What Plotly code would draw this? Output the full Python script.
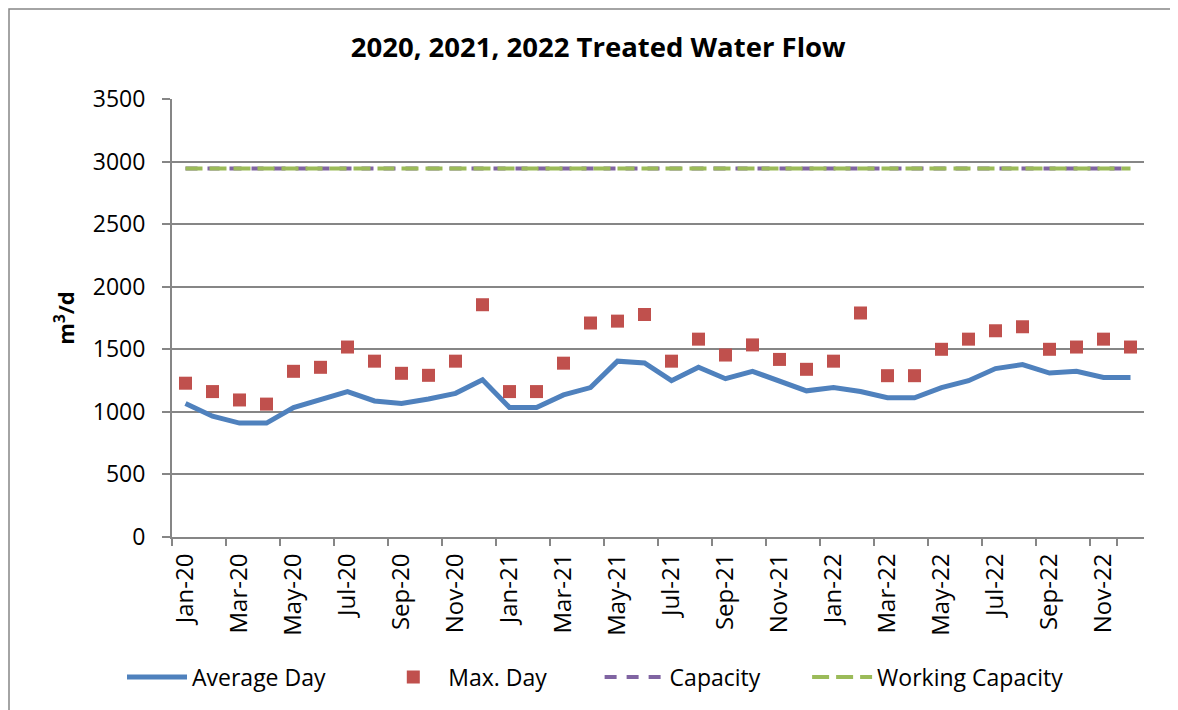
import plotly.graph_objects as go

months = ["Jan-20", "Feb-20", "Mar-20", "Apr-20", "May-20", "Jun-20", "Jul-20", "Aug-20", "Sep-20", "Oct-20", "Nov-20", "Dec-20",
          "Jan-21", "Feb-21", "Mar-21", "Apr-21", "May-21", "Jun-21", "Jul-21", "Aug-21", "Sep-21", "Oct-21", "Nov-21", "Dec-21",
          "Jan-22", "Feb-22", "Mar-22", "Apr-22", "May-22", "Jun-22", "Jul-22", "Aug-22", "Sep-22", "Oct-22", "Nov-22", "Dec-22"]

average_day = [1067, 965, 910, 910, 1035, 1103, 1162, 1087, 1067, 1103, 1148, 1257,
               1035, 1035, 1135, 1194, 1405, 1391, 1249, 1356, 1265, 1324, 1243, 1168,
               1194, 1162, 1113, 1113, 1194, 1249, 1346, 1378, 1310, 1324, 1275, 1275]

max_day = [1229, 1162, 1095, 1062, 1324, 1356, 1518, 1405, 1308, 1292, 1405, 1856,
           1162, 1162, 1389, 1710, 1725, 1778, 1405, 1581, 1454, 1535, 1419, 1340,
           1405, 1790, 1289, 1289, 1500, 1581, 1648, 1680, 1500, 1518, 1581, 1518]

capacity = [2945] * 36
working_capacity = [2945] * 36

series_names = ["Average Day", "Max. Day", "Capacity", "Working Capacity"]

FONT = "'Open Sans', Lato, sans-serif"
GRID = "#868686"
NB = "\u00a0"

fig = go.Figure()
fig.add_trace(go.Scatter(x=months, y=average_day, mode="lines", name=series_names[0] + NB * 8,
                         line=dict(color="#4F81BD", width=5)))
fig.add_trace(go.Scatter(x=months, y=max_day, mode="markers", name=series_names[1] + NB * 8,
                         marker=dict(symbol="square", size=13, color="#C0504D",
                                     line=dict(width=0))))
fig.add_trace(go.Scatter(x=months, y=capacity, mode="lines", name=series_names[2] + NB * 7,
                         line=dict(color="#8064A2", width=4, dash="12px,10px")))
fig.add_trace(go.Scatter(x=months, y=working_capacity, mode="lines", name=series_names[3],
                         line=dict(color="#9BBB59", width=4, dash="17px,7px")))

fig.update_layout(
    width=1178, height=710,
    margin=dict(l=164, r=42, t=91, b=181),
    paper_bgcolor="white", plot_bgcolor="white",
    font=dict(family=FONT, size=21, color="black"),
    title=dict(text="<b>2020, 2021, 2022 Treated Water Flow</b>", x=0.501, xanchor="center",
               y=0.945, yanchor="middle", font=dict(size=27.5, family=FONT)),
    showlegend=True,
    legend=dict(orientation="h", x=(122 - 172) / 972, xanchor="left", y=-0.32, yanchor="middle",
                font=dict(size=23, family=FONT), itemwidth=60,
                bgcolor="rgba(0,0,0,0)"),
    shapes=[dict(type="rect", xref="paper", yref="paper",
                 x0=(9 - 172) / 972, x1=1.2, y0=-0.6, y1=(537 - 9) / 438,
                 line=dict(color=GRID, width=1.5), layer="below")],
)

fig.update_xaxes(type="category", categoryorder="array", categoryarray=months,
                 tickmode="array", tickvals=months[::2], ticktext=months[::2],
                 tickson="boundaries", tickangle=-90, ticks="outside", ticklen=7,
                 tickcolor=GRID, tickwidth=1.5, showgrid=False,
                 showline=True, linecolor=GRID, linewidth=2,
                 ticklabelstandoff=5,
                 range=[-0.5, 35.5], tickfont=dict(size=24, family=FONT))
fig.update_yaxes(range=[0, 3500], dtick=500, tick0=0, showgrid=True, gridcolor=GRID, gridwidth=2,
                 zeroline=False, showline=True, linecolor=GRID, linewidth=2,
                 ticks="outside", ticklen=8, tickcolor=GRID, tickwidth=1.5,
                 ticklabelstandoff=12,
                 tickfont=dict(size=23, family=FONT),
                 title=dict(text="<b>m<sup>3</sup>/d</b>", font=dict(size=22, family=FONT), standoff=12))

fig.write_html("out.html")
